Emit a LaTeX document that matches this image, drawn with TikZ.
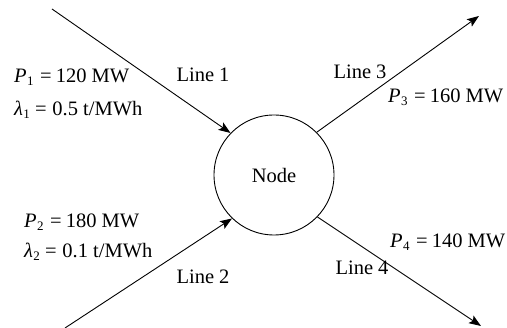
\documentclass[tikz,border=0pt]{standalone}
\usepackage{fontspec}
\setmainfont{Liberation Serif}
\usetikzlibrary{arrows.meta}
\newcommand{\vsub}[1]{\raisebox{-0.35ex}{\fontsize{13}{13}\selectfont #1}}
\newcommand{\Pv}[1]{\textit{P}\kern0.02em\vsub{#1}}
\newcommand{\Lv}[1]{\textit{λ}\kern0.02em\vsub{#1}}
\newcommand{\eqs}{\hspace{0.32em}=\hspace{0.2em}}
\begin{document}
\begin{tikzpicture}[x=1pt,y=-1pt,
  txt/.style={inner sep=0pt,font=\fontsize{20.5}{24}\selectfont},
  lbl/.style={txt,anchor=west},
  flow/.style={line width=0.9pt,-{Stealth[length=12pt,width=9pt,inset=2.5pt]}}]
\useasboundingbox (0,0) rectangle (507,328);
\node[circle,draw,line width=0.9pt,minimum size=120pt,inner sep=0pt,txt] (n) at (274,175) {Node};
\coordinate (s1) at (52,9);
\coordinate (s2) at (65,328);
\coordinate (e3) at (479,16);
\coordinate (e4) at (481,326);
\draw[flow] (s1) -- (n.136);
\draw[flow] (s2) -- (n.226);
\draw[flow] (n.45) -- (e3);
\draw[flow] (n.316) -- (e4);
\node[lbl] (p1) at (14,77) {\Pv{1}\eqs120 MW};
\node[lbl] (l1) at (14,110) {\Lv{1}\hspace{0.25em}=\hspace{0.28em}0.5 t/MWh};
\node[txt] (t1) at (203,75) {Line 1};
\node[txt] (t3) at (360,72) {Line 3};
\node[lbl] (p3) at (388,97) {\Pv{3}\eqs160 MW};
\node[lbl] (p2) at (24,222) {\Pv{2}\eqs180 MW};
\node[lbl] (l2) at (24,252) {\Lv{2}\hspace{0.25em}=\hspace{0.28em}0.1 t/MWh};
\node[txt] (t2) at (203,277) {Line 2};
\node[txt] (t4) at (362,268) {Line 4};
\node[lbl] (p4) at (390,242) {\Pv{4}\eqs140 MW};
\end{tikzpicture}
\end{document}
